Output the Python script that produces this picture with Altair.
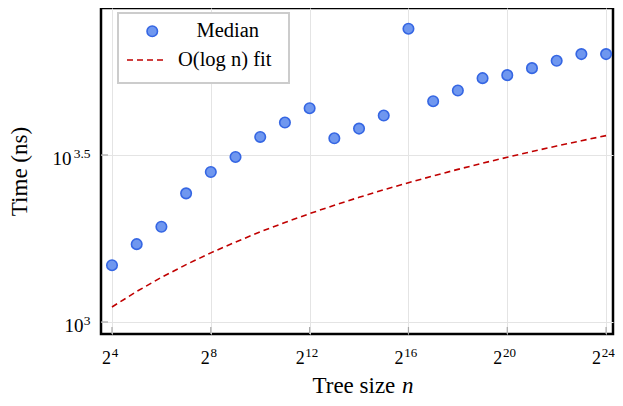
import altair as alt
import pandas as pd

exponents = [4, 5, 6, 7, 8, 9, 10, 11, 12, 13, 14, 15, 16, 17, 18, 19, 20, 21, 22, 23, 24]
median_ns = [1479, 1710, 1928, 2427, 2812, 3119, 3581, 3954, 4365, 3548, 3793, 4150,
             7551, 4581, 4932, 5370, 5483, 5754, 6053, 6339, 6339]
fit_ns = [1109, 1234, 1360, 1485, 1610, 1735, 1861, 1986, 2111, 2236, 2362, 2487,
          2612, 2737, 2863, 2988, 3113, 3238, 3364, 3489, 3614]
x_tick_exps = [4, 8, 12, 16, 20, 24]
x_tick_base = "2"
x_tick_sup = ["4", "8", "12", "16", "20", "24"]
y_tick_values = [1000, 3162.2777]
y_tick_base = "10"
y_tick_sup = ["3", "3.5"]
series_names = ["Median", "O(log n) fit"]

x_ticks = [2 ** e for e in x_tick_exps]
df_med = pd.DataFrame({"n": [2 ** e for e in exponents], "t": median_ns, "series": series_names[0]})
df_fit = pd.DataFrame({"n": [2 ** e for e in exponents], "t": fit_ns, "series": series_names[1]})
df_xt = pd.DataFrame({"n": x_ticks})
df_yt = pd.DataFrame({"t": y_tick_values})

FONT = "Liberation Serif"
W, H = 512, 326
xscale = alt.Scale(type="log", base=2, domain=[2 ** 3.555, 2 ** 24.28], nice=False)
yscale = alt.Scale(type="log", domain=[10 ** 2.964, 10 ** 3.94], nice=False)

xsup_map = "{" + ", ".join(f"'{v}': '{s}'" for v, s in zip(x_ticks, x_tick_sup)) + "}"
ysup_expr = f"datum.value < 2000 ? '{y_tick_sup[0]}' : '{y_tick_sup[1]}'"
x_junction = {"condition": {"test": "datum.value < 1000", "value": -1.5}, "value": -5.5}
x_junction_sup = {"condition": {"test": "datum.value < 1000", "value": -0.8}, "value": -4.8}

common_axis = dict(ticks=False, domain=False, labelFont=FONT, labelColor="black",
                   titleFont=FONT, titleFontWeight="normal", titleColor="black")

# base-number axes (with grid + titles)
x_base = alt.X("n:Q", scale=xscale, axis=alt.Axis(
    values=x_ticks, labelExpr=f"'{x_tick_base}'", grid=True, gridColor="#e4e4e4", orient="bottom",
    labelFontSize=18, labelAlign="right", labelBaseline="alphabetic", labelPadding=29,
    labelOffset=x_junction, labelBound=False, labelOverlap=False, labelFlush=False,
    title="Tree size", titleFontSize=23, titleAlign="left", titleAnchor="start",
    titleBaseline="alphabetic", titleX=211, titleY=58, **common_axis))
y_base = alt.Y("t:Q", scale=yscale, axis=alt.Axis(
    values=y_tick_values, labelExpr=f"'{y_tick_base}'", grid=True, gridColor="#e4e4e4", orient="left",
    labelFontSize=19, labelAlign="right", labelBaseline="alphabetic", labelOffset=10,
    labelPadding={"condition": {"test": "datum.value < 2000", "value": 18}, "value": 30},
    labelBound=False, labelOverlap=False, labelFlush=False,
    title="Time (ns)", titleFontSize=23, titleBaseline="alphabetic", titleX=-75, titleY=H / 2,
    titleAlign="center", **common_axis))
# superscript axes
x_sup = alt.X("n:Q", scale=xscale, axis=alt.Axis(
    values=x_ticks, labelExpr=f"{xsup_map}[datum.value + '']", grid=False, orient="bottom",
    labelFontSize=13, labelAlign="left", labelBaseline="alphabetic", labelPadding=22.5,
    labelOffset=x_junction_sup, labelBound=False, labelOverlap=False, labelFlush=False,
    title="n", titleFontSize=23, titleFontStyle="italic", titleAlign="left", titleAnchor="start",
    titleBaseline="alphabetic", titleX=300.5, titleY=58, **common_axis))
y_sup = alt.Y("t:Q", scale=yscale, axis=alt.Axis(
    values=y_tick_values, labelExpr=ysup_expr, grid=False, orient="left",
    labelFontSize=13.5, labelAlign="right", labelBaseline="alphabetic", labelOffset=2.5,
    labelPadding=11, labelBound=False, labelOverlap=False, labelFlush=False,
    title=None, **common_axis))

legend_med = alt.Legend(
    title=None, orient="none", legendX=41, legendY=13, padding=0,
    labelFont=FONT, labelFontSize=20.5, labelColor="black", labelLimit=300,
    symbolType="circle", symbolSize=110, symbolStrokeColor="#3566e3",
    symbolStrokeWidth=1.6, symbolOpacity=1, labelOffset=34,
)
legend_fit = alt.Legend(
    title=None, orient="none", legendX=25, legendY=31, padding=0,
    labelFont=FONT, labelFontSize=20.5, labelColor="black", labelLimit=300,
    symbolType="stroke", symbolSize=1600, symbolStrokeColor="#c00000",
    symbolStrokeWidth=1.6, symbolOpacity=1, labelOffset=10,
)

xticks_in = alt.Chart(df_xt).mark_rule(color="#a8a8a8", strokeWidth=1.2).encode(
    x=alt.X("n:Q", scale=xscale, axis=None), y=alt.value(H), y2=alt.value(H - 7))
yticks_in = alt.Chart(df_yt).mark_rule(color="#a8a8a8", strokeWidth=1.2).encode(
    y=alt.Y("t:Q", scale=yscale, axis=None), x=alt.value(0), x2=alt.value(7))

box = alt.Chart(pd.DataFrame({"k": [0]})).mark_rect(
    fill="white", stroke="#cccccc", strokeWidth=2
).encode(x=alt.value(17), x2=alt.value(188), y=alt.value(5), y2=alt.value(75))

line = alt.Chart(df_fit).mark_line(strokeWidth=1.6, color="#c00000").encode(
    x=x_sup, y=y_sup,
    strokeDash=alt.StrokeDash("series:N", scale=alt.Scale(domain=[series_names[1]], range=[[6, 4]]),
                              legend=legend_fit),
)
points = alt.Chart(df_med).mark_point(filled=True, size=110, opacity=1, stroke="#3566e3", strokeWidth=1.6).encode(
    x=x_base, y=y_base,
    fill=alt.Fill("series:N", scale=alt.Scale(domain=[series_names[0]], range=["#6f97ef"]),
                  legend=legend_med),
)

chart = alt.layer(xticks_in, yticks_in, line, points, box).properties(
    width=W, height=H,
    autosize=alt.AutoSizeParams(type="none"),
    padding={"left": 93, "top": 0, "right": 2, "bottom": 64},
).resolve_axis(x="independent", y="independent").configure(
    background="white"
).configure_view(stroke="black", strokeWidth=2.5)

chart.save("out.html", embed_options={"renderer": "svg", "actions": False})
